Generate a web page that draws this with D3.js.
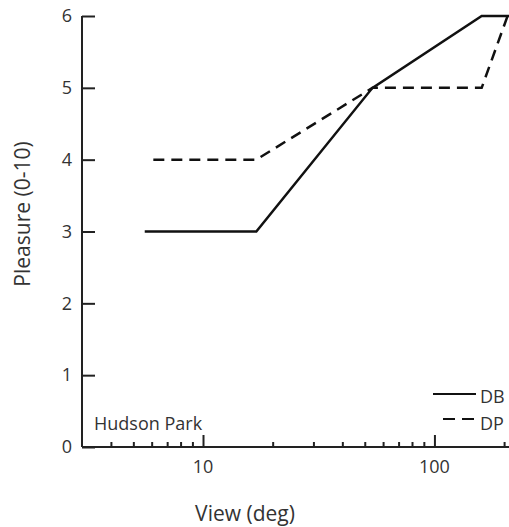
<!DOCTYPE html>
<html>
<head>
<meta charset="utf-8">
<script src="https://cdn.jsdelivr.net/npm/d3@7"></script>
<style>
  body { margin: 0; background: #fff; }
  text { font-family: "Open Sans", "Noto Sans", sans-serif; fill: #333; }
</style>
</head>
<body>
<div id="chart"></div>
<script>
// View angle (deg) vs pleasure rating, Hudson Park
var dbView = [5.6, 17, 54, 160, 210];
var dbPleasure = [3, 3, 5, 6, 6];
var dpView = [6.1, 17, 54, 160, 207];
var dpPleasure = [4, 4, 5, 5, 6];
var yTicks = [0, 1, 2, 3, 4, 5, 6];
var xMajorTicks = [10, 100];
var xMinorTicks = [4, 5, 6, 7, 8, 9, 20, 30, 40, 50, 60, 70, 80, 90, 200];

var width = 509, height = 527;
var margin = {top: 16, right: 0, bottom: 80, left: 82};

var svg = d3.select("#chart").append("svg")
  .attr("width", width)
  .attr("height", height);

var x = d3.scaleLog().domain([3, 210]).range([margin.left, width - margin.right]);
var y = d3.scaleLinear().domain([0, 6]).range([height - margin.bottom, margin.top]);

var line = d3.line()
  .x(function(d) { return x(d[0]); })
  .y(function(d) { return y(d[1]); });

// axes
var yAxis = svg.append("g")
  .attr("transform", "translate(" + margin.left + ",0)")
  .call(d3.axisRight(y).tickValues(yTicks).tickSize(13).tickFormat(""));
yAxis.select(".domain").attr("d", "M0," + y(6) + "V" + y(0));

var xAxis = svg.append("g")
  .attr("transform", "translate(0," + y(0) + ")")
  .call(d3.axisTop(x).tickValues(xMajorTicks).tickSize(12).tickFormat(""));
xAxis.select(".domain").attr("d", "M" + x.range()[0] + ",0H" + x.range()[1]);

svg.append("g")
  .attr("transform", "translate(0," + y(0) + ")")
  .call(d3.axisTop(x).tickValues(xMinorTicks).tickSize(5).tickFormat(""))
  .select(".domain").remove();

svg.selectAll(".domain, .tick line")
  .attr("stroke", "#222")
  .attr("stroke-width", 2);

// tick labels
svg.selectAll(".ylab")
  .data(yTicks)
  .enter().append("text")
  .attr("class", "ylab")
  .attr("x", 72)
  .attr("y", function(d) { return y(d); })
  .attr("dy", "0.35em")
  .attr("text-anchor", "end")
  .style("font-size", "18px")
  .text(function(d) { return d; });

svg.selectAll(".xlab")
  .data(xMajorTicks)
  .enter().append("text")
  .attr("class", "xlab")
  .attr("x", function(d) { return x(d); })
  .attr("y", y(0) + 26)
  .attr("text-anchor", "middle")
  .style("font-size", "18px")
  .text(function(d) { return d; });

// axis titles
svg.append("text")
  .attr("x", 245)
  .attr("y", 521)
  .attr("text-anchor", "middle")
  .style("font-size", "21px")
  .text("View (deg)");

svg.append("text")
  .attr("transform", "translate(30,214) rotate(-90)")
  .attr("text-anchor", "middle")
  .style("font-size", "21px")
  .text("Pleasure (0-10)");

svg.append("text")
  .attr("x", 94)
  .attr("y", 430)
  .style("font-size", "18px")
  .text("Hudson Park");

// series
svg.append("path")
  .datum(d3.zip(dbView, dbPleasure))
  .attr("fill", "none")
  .attr("stroke", "#111")
  .attr("stroke-width", 2.5)
  .attr("d", line);

svg.append("path")
  .datum(d3.zip(dpView, dpPleasure))
  .attr("fill", "none")
  .attr("stroke", "#111")
  .attr("stroke-width", 2.5)
  .attr("stroke-dasharray", "11,7")
  .attr("d", line);

// legend
var legend = svg.append("g");
legend.append("line")
  .attr("x1", 433).attr("x2", 476)
  .attr("y1", 394).attr("y2", 394)
  .attr("stroke", "#111").attr("stroke-width", 2);
legend.append("line")
  .attr("x1", 443).attr("x2", 474)
  .attr("y1", 419).attr("y2", 419)
  .attr("stroke", "#111").attr("stroke-width", 2)
  .attr("stroke-dasharray", "12,7");
legend.append("text")
  .attr("x", 480).attr("y", 397).attr("dy", "0.35em")
  .style("font-size", "18px")
  .text("DB");
legend.append("text")
  .attr("x", 480).attr("y", 424).attr("dy", "0.35em")
  .style("font-size", "18px")
  .text("DP");
</script>
</body>
</html>
